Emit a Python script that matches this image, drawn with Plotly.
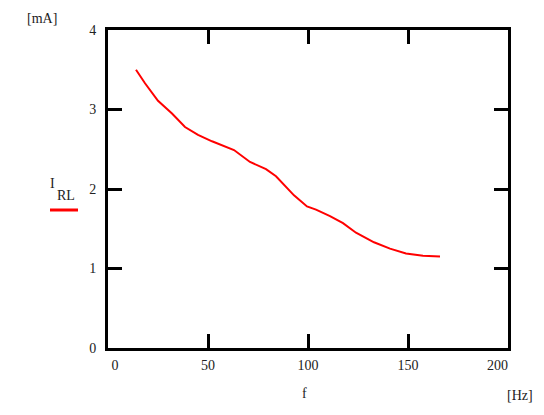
import plotly.graph_objects as go

# Data
freq_hz = [14, 18.5, 25, 32, 38.5, 45, 52, 63, 71, 79, 84, 88, 93, 99.5, 104,
           111, 117.5, 124, 133, 141, 149, 157.5, 166]
current_ma = [3.50, 3.33, 3.11, 2.95, 2.78, 2.68, 2.60, 2.49, 2.34, 2.25, 2.16,
              2.05, 1.92, 1.78, 1.74, 1.66, 1.57, 1.45, 1.33, 1.25, 1.19, 1.16, 1.15]
x_ticks = [0, 50, 100, 150, 200]
x_ticktext = ["\u2007\u20070", "50", "100", "150", "200\u2007\u2007\u2007"]
y_ticks = [0, 1, 2, 3, 4]

FONT = "'Liberation Serif', 'DejaVu Serif', serif"
OFF = 8  # page body margin
W, H = 544, 415
L, R, T, B = 108 - OFF, 44, 30 - OFF, 75
pw, ph = W - L - R, H - T - B

def px(x):
    return (x - OFF - L) / pw

def py(y):
    return (H - B - (y - OFF)) / ph

fig = go.Figure()
fig.add_trace(go.Scatter(x=freq_hz, y=current_ma, mode="lines",
                         line=dict(color="#ff0000", width=2), showlegend=False,
                         hoverinfo="skip"))

axis_common = dict(showline=True, linecolor="black", linewidth=3, mirror="ticks",
                   ticks="inside", ticklen=14, tickwidth=3, tickcolor="black",
                   showgrid=False, zeroline=False,
                   tickfont=dict(family=FONT, size=14, color="#222222"))
fig.update_xaxes(range=[0, 200], tickvals=x_ticks, ticktext=x_ticktext,
                 ticklabelstandoff=2, **axis_common)
fig.update_yaxes(range=[0, 4], tickvals=y_ticks, ticklabelstandoff=6, **axis_common)

def ann(text, x, y):
    fig.add_annotation(text=text, x=px(x), y=py(y), xref="paper", yref="paper",
                       showarrow=False, xanchor="center", yanchor="middle",
                       font=dict(family=FONT, size=14, color="#222222"))

ann("[mA]", 42, 18)
ann("I", 53, 183)
ann("RL", 66, 195)
ann("f", 304, 393)
ann("[Hz]", 520, 395)

fig.add_shape(type="line", xref="paper", yref="paper",
              x0=px(50), x1=px(78), y0=py(210), y1=py(210),
              line=dict(color="#ff0000", width=3))

fig.update_layout(width=W, height=H, margin=dict(l=L, r=R, t=T, b=B),
                  paper_bgcolor="white", plot_bgcolor="white",
                  font=dict(family=FONT, size=14))
fig.write_html("out.html")
